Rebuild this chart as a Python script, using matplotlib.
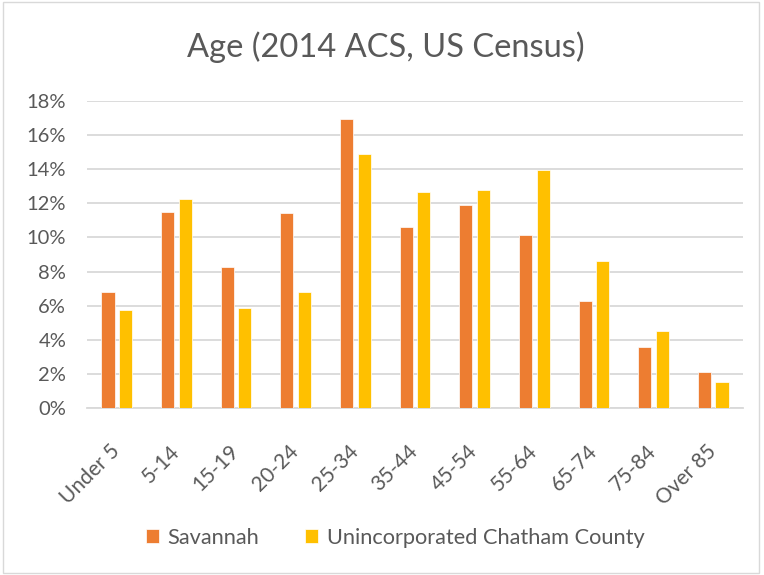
import numpy as np
import matplotlib
matplotlib.use("Agg")
import matplotlib.pyplot as plt
from matplotlib.ticker import FuncFormatter
from matplotlib.patches import Rectangle

plt.rcParams['font.family'] = ['Lato', 'DejaVu Sans']

age_groups = ['Under 5', '5-14', '15-19', '20-24', '25-34', '35-44',
              '45-54', '55-64', '65-74', '75-84', 'Over 85']
savannah = [6.83, 11.52, 8.24, 11.46, 16.92, 10.64, 11.91, 10.17, 6.30, 3.60, 2.09]
chatham = [5.77, 12.28, 5.85, 6.83, 14.90, 12.64, 12.81, 13.93, 8.61, 4.50, 1.50]

text_gray = '#595959'
grid_gray = '#d9d9d9'

fig = plt.figure(figsize=(7.64, 5.75), dpi=100)
ax = fig.add_axes([0.1139, 0.2904, 0.8586, 0.5339])

x = np.arange(len(age_groups))
w = 0.22
off = 0.148
ax.bar(x - off, savannah, w, color='#ed7d31', edgecolor='white', linewidth=0.5,
       label='Savannah', zorder=3)
ax.bar(x + off, chatham, w, color='#ffc000', edgecolor='white', linewidth=0.5,
       label='Unincorporated Chatham County', zorder=3)

ax.set_xlim(-0.5, len(age_groups) - 0.5)
ax.set_ylim(0, 18)
ax.set_yticks(np.arange(0, 19, 2))
ax.yaxis.set_major_formatter(FuncFormatter(lambda v, p: f'{v:.0f}%'))
ax.yaxis.grid(True, color=grid_gray, linewidth=1.3, zorder=0)
ax.set_axisbelow(True)

for s in ['top', 'right', 'left']:
    ax.spines[s].set_visible(False)
ax.spines['bottom'].set_color(grid_gray)
ax.spines['bottom'].set_linewidth(1.3)
ax.tick_params(axis='both', length=0, colors=text_gray, labelsize=14.5)
ax.tick_params(axis='y', pad=15)

ax.set_xticks(x)
ax.set_xticklabels(age_groups, rotation=45, ha='right', va='center',
                   rotation_mode='anchor', fontsize=15)
ax.tick_params(axis='x', pad=29)

fig.text(0.505, 0.918, 'Age (2014 ACS, US Census)', ha='center', va='center',
         fontsize=23.5, color=text_gray)

ax.legend(loc='center', bbox_to_anchor=(0.517, 1 - 538 / 575), bbox_transform=fig.transFigure,
          ncol=2, frameon=False, fontsize=15.7, labelcolor=text_gray,
          handlelength=0.6, handleheight=0.6, columnspacing=2.1, handletextpad=0.4)

fig.patches.append(Rectangle((0.004, 0.003), 0.99, 0.994, transform=fig.transFigure,
                             fill=False, edgecolor='#d9d9d9', linewidth=1))

fig.savefig('out.png', dpi=100, facecolor='white')
